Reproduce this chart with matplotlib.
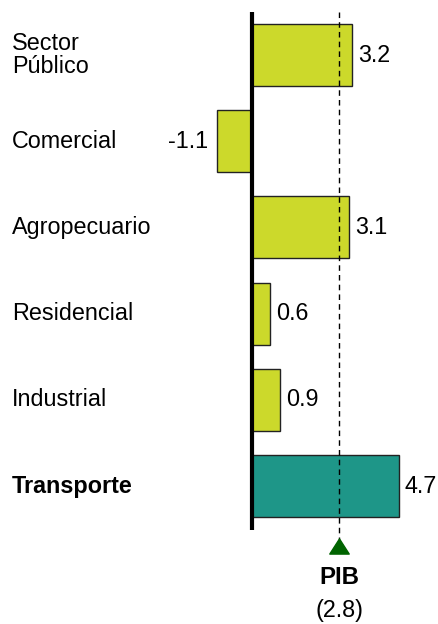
import matplotlib
matplotlib.use("Agg")
import matplotlib.pyplot as plt
from matplotlib.path import Path

plt.rcParams['font.family'] = ['Liberation Sans', 'DejaVu Sans']

categories = ["Sector\nPúblico", "Comercial", "Agropecuario", "Residencial", "Industrial", "Transporte"]
values = [3.2, -1.1, 3.1, 0.6, 0.9, 4.7]
value_labels = ["3.2", "-1.1", "3.1", "0.6", "0.9", "4.7"]
pib_value = 2.8
pib_label = "PIB"
pib_value_label = "(2.8)"

colors = ["#CCD92B"] * 5 + ["#1E9688"]

fig = plt.figure(figsize=(4.38, 6.24), dpi=100)
ax = fig.add_axes([0, 0, 1, 1])
ax.set_xlim(-251.5 / 31.3, (438 - 251.5) / 31.3)
ax.set_ylim((624 - 55) / 86.2, -55 / 86.2)
ax.axis("off")

ypos = list(range(len(categories)))
ax.barh(ypos, values, height=0.72, color=colors, edgecolor="#222222", linewidth=1.0, zorder=2)

# zero axis line
ax.plot([0, 0], [-0.5, 5.51], color="black", linewidth=3, solid_capstyle="butt", zorder=4)
# PIB dashed line
ax.plot([pib_value, pib_value], [-0.5, 5.63], color="black", linewidth=1, linestyle=(0, (4, 3)), zorder=3)

# triangle marker
tri = Path([(-1, -0.78), (1, -0.78), (0, 0.78), (-1, -0.78)],
           [Path.MOVETO, Path.LINETO, Path.LINETO, Path.CLOSEPOLY])
ax.plot([pib_value], [5.7], marker=tri, markersize=14, color="#006400", linestyle="none", zorder=5)

fs = 16.8
for i, (cat, v, lab) in enumerate(zip(categories, values, value_labels)):
    weight = "bold" if cat == "Transporte" else "normal"
    ax.text(12 / 438, i, cat, transform=ax.get_yaxis_transform(), ha="left", va="center",
            fontsize=fs, fontweight=weight, linespacing=1.05)
    if v >= 0:
        ax.text(v + 0.2, i, lab, ha="left", va="center", fontsize=fs)
    else:
        ax.text(v - 0.27, i, lab, ha="right", va="center", fontsize=fs)

ax.text(pib_value, (578 - 55) / 86.2, pib_label, ha="center", va="center", fontsize=fs + 0.5, fontweight="bold")
ax.text(pib_value, (610 - 55) / 86.2, pib_value_label, ha="center", va="center", fontsize=fs)

fig.savefig("out.png", dpi=100)
